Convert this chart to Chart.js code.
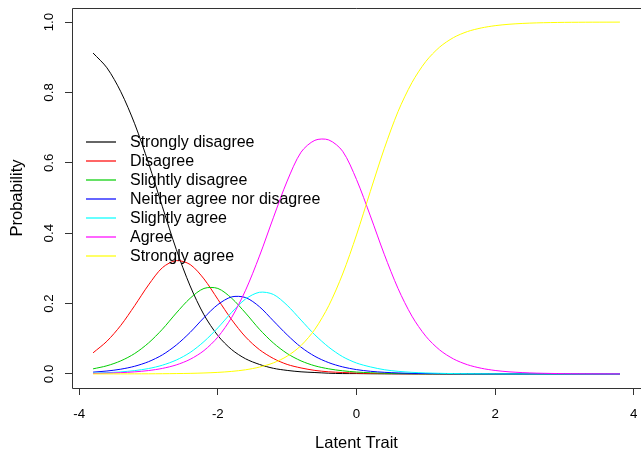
<!DOCTYPE html>
<html>
<head>
<meta charset="utf-8">
<title>Category response curves</title>
<script src="https://cdn.jsdelivr.net/npm/chart.js@4.4.1/dist/chart.umd.min.js"></script>
<style>
  html, body { margin: 0; padding: 0; background: #fff; }
  #wrap { width: 641px; height: 458px; }
</style>
</head>
<body>
<div id="wrap"><canvas id="irc" width="641" height="458"></canvas></div>
<script>
// latent trait grid (x values of every curve)
const theta = [-3.8, -3.6, -3.4, -3.2, -3.0, -2.8, -2.6, -2.4, -2.2, -2.0,
  -1.8, -1.6, -1.4, -1.2, -1.0, -0.8, -0.6, -0.4, -0.2, 0.0,
  0.2, 0.4, 0.6, 0.8, 1.0, 1.2, 1.4, 1.6, 1.8, 2.0,
  2.2, 2.4, 2.6, 2.8, 3.0, 3.2, 3.4, 3.6, 3.8];

const categoryLabels = ['Strongly disagree', 'Disagree', 'Slightly disagree',
  'Neither agree nor disagree', 'Slightly agree', 'Agree', 'Strongly agree'];
const lineColors = ['#000000', '#FF0000', '#00CD00', '#0000FF', '#00FFFF', '#FF00FF', '#FFFF00'];

// probability, one value per theta
const stronglyDisagree = [0.912, 0.870, 0.802, 0.711, 0.599, 0.475, 0.354, 0.250, 0.168, 0.109,
  0.069, 0.043, 0.027, 0.016, 0.010, 0.006, 0.004, 0.002, 0.001, 0.001,
  0.0005, 0.0003, 0.0002, 0.0001, 0, 0, 0, 0, 0, 0,
  0, 0, 0, 0, 0, 0, 0, 0, 0];
const disagree = [0.060, 0.093, 0.138, 0.194, 0.253, 0.302, 0.322, 0.311, 0.270, 0.212,
  0.154, 0.105, 0.069, 0.044, 0.027, 0.017, 0.010, 0.006, 0.004, 0.0024,
  0.0014, 0.0009, 0.0005, 0.0003, 0.0002, 0.0001, 0, 0, 0, 0,
  0, 0, 0, 0, 0, 0, 0, 0, 0];
const slightlyDisagree = [0.0144, 0.0232, 0.0371, 0.058, 0.088, 0.127, 0.173, 0.215, 0.243, 0.243,
  0.215, 0.173, 0.127, 0.088, 0.058, 0.037, 0.023, 0.0144, 0.0089, 0.0054,
  0.0033, 0.0020, 0.0012, 0.0007, 0.0005, 0.0003, 0.0002, 0.0001, 0, 0,
  0, 0, 0, 0, 0, 0, 0, 0, 0];
const neither = [0.0051, 0.0083, 0.0135, 0.0218, 0.0348, 0.0542, 0.082, 0.118, 0.160, 0.197,
  0.219, 0.217, 0.191, 0.151, 0.111, 0.076, 0.050, 0.032, 0.020, 0.0123,
  0.0075, 0.0046, 0.0028, 0.0017, 0.0010, 0.0006, 0.0004, 0.0002, 0.0001, 0,
  0, 0, 0, 0, 0, 0, 0, 0, 0];
const slightlyAgree = [0.0022, 0.0036, 0.0058, 0.0094, 0.0153, 0.0248, 0.0394, 0.061, 0.092, 0.131,
  0.175, 0.213, 0.232, 0.226, 0.195, 0.153, 0.111, 0.076, 0.049, 0.031,
  0.020, 0.012, 0.0074, 0.0045, 0.0028, 0.0017, 0.0010, 0.0006, 0.0004, 0.0002,
  0.0001, 0.0001, 0, 0, 0, 0, 0, 0, 0];
const agree = [0.0013, 0.0022, 0.0036, 0.0059, 0.0096, 0.0157, 0.0256, 0.0415, 0.0664, 0.1047,
  0.1608, 0.2379, 0.3349, 0.4437, 0.5482, 0.6302, 0.664, 0.665, 0.6329, 0.5526,
  0.4490, 0.3403, 0.2424, 0.1641, 0.1071, 0.0681, 0.0425, 0.0262, 0.0161, 0.0098,
  0.0060, 0.0037, 0.0022, 0.0014, 0.0008, 0.0005, 0.0003, 0.0002, 0.0001];
const stronglyAgree = [0.00005, 0.00008, 0.00013, 0.00022, 0.00036, 0.0006, 0.001, 0.0016, 0.0027, 0.0044,
  0.0072, 0.0118, 0.0194, 0.0313, 0.0505, 0.0807, 0.127, 0.194, 0.284, 0.395,
  0.519, 0.640, 0.746, 0.828, 0.888, 0.929, 0.956, 0.973, 0.9833, 0.9898,
  0.9938, 0.9962, 0.9977, 0.9986, 0.9992, 0.9995, 0.9997, 0.9998, 0.9999];

const xTicks = [-4, -2, 0, 2, 4];
const yTicks = [0, 0.2, 0.4, 0.6, 0.8, 1.0];

const seriesValues = [stronglyDisagree, disagree, slightlyDisagree, neither,
  slightlyAgree, agree, stronglyAgree];

const FONT = "'Liberation Sans', Arial, sans-serif";

// R-style decorations: box, rotated y labels, axis titles, borderless legend
const rStyle = {
  id: 'rStyle',
  afterDatasetsDraw(chart) {
    const ctx = chart.ctx;
    ctx.save();
    ctx.font = '16px ' + FONT;
    ctx.textAlign = 'left';
    ctx.textBaseline = 'middle';
    chart.data.datasets.forEach((ds, i) => {
      const y = Math.round(142 + i * 19.07);
      ctx.strokeStyle = ds.borderColor;
      ctx.lineWidth = 1.2;
      ctx.beginPath();
      ctx.moveTo(86, y);
      ctx.lineTo(116, y);
      ctx.stroke();
      ctx.fillStyle = '#000';
      ctx.fillText(ds.label, 130, y + 0.5);
    });
    ctx.restore();
  },
  afterDraw(chart) {
    const { ctx, chartArea: a, scales } = chart;
    ctx.save();
    // box: the right side falls just outside the picture
    ctx.strokeStyle = '#333';
    ctx.lineWidth = 1;
    ctx.beginPath();
    ctx.moveTo(chart.width, a.top + 0.5);
    ctx.lineTo(a.left + 0.5, a.top + 0.5);
    ctx.lineTo(a.left + 0.5, a.bottom + 0.5);
    ctx.lineTo(chart.width, a.bottom + 0.5);
    ctx.stroke();

    ctx.fillStyle = '#000';
    ctx.font = '13.3px ' + FONT;
    ctx.textAlign = 'center';
    ctx.textBaseline = 'middle';
    xTicks.forEach(v => {
      ctx.fillText(String(v), scales.x.getPixelForValue(v), 414);
    });
    yTicks.forEach(v => {
      ctx.save();
      ctx.translate(49.5, scales.y.getPixelForValue(v));
      ctx.rotate(-Math.PI / 2);
      ctx.fillText(v.toFixed(1), 0, 0);
      ctx.restore();
    });

    ctx.font = '16.5px ' + FONT;
    ctx.fillText('Latent Trait', (a.left + a.right) / 2, 443);
    ctx.save();
    ctx.translate(17, (a.top + a.bottom) / 2);
    ctx.rotate(-Math.PI / 2);
    ctx.fillText('Probability', 0, 0);
    ctx.restore();
    ctx.restore();
  }
};

new Chart(document.getElementById('irc'), {
  type: 'line',
  data: {
    datasets: seriesValues.map((vals, i) => ({
      label: categoryLabels[i],
      data: theta.map((t, j) => ({ x: t, y: vals[j] })),
      borderColor: lineColors[i],
      borderWidth: 1,
      pointRadius: 0,
      tension: 0.3,
      fill: false,
      order: seriesValues.length - 1 - i   // later categories drawn on top, like R
    }))
  },
  options: {
    responsive: false,
    animation: false,
    devicePixelRatio: 1,
    layout: { padding: { top: 8, left: 0, right: 0, bottom: 0 } },
    plugins: { legend: { display: false }, tooltip: { enabled: false }, title: { display: false } },
    scales: {
      x: {
        type: 'linear',
        min: -4.104,
        max: 4.104,
        afterBuildTicks: s => { s.ticks = xTicks.map(v => ({ value: v })); },
        afterFit: s => { s.height = 70; },
        ticks: { display: false },
        grid: { drawOnChartArea: false, drawTicks: true, tickLength: 7, tickColor: '#333', tickWidth: 1 },
        border: { display: false }
      },
      y: {
        type: 'linear',
        min: -0.04,
        max: 1.04,
        afterBuildTicks: s => { s.ticks = yTicks.map(v => ({ value: v })); },
        afterFit: s => { s.width = 72; },
        ticks: { display: false },
        grid: { drawOnChartArea: false, drawTicks: true, tickLength: 7, tickColor: '#333', tickWidth: 1 },
        border: { display: false }
      }
    }
  },
  plugins: [rStyle]
});
</script>
</body>
</html>
